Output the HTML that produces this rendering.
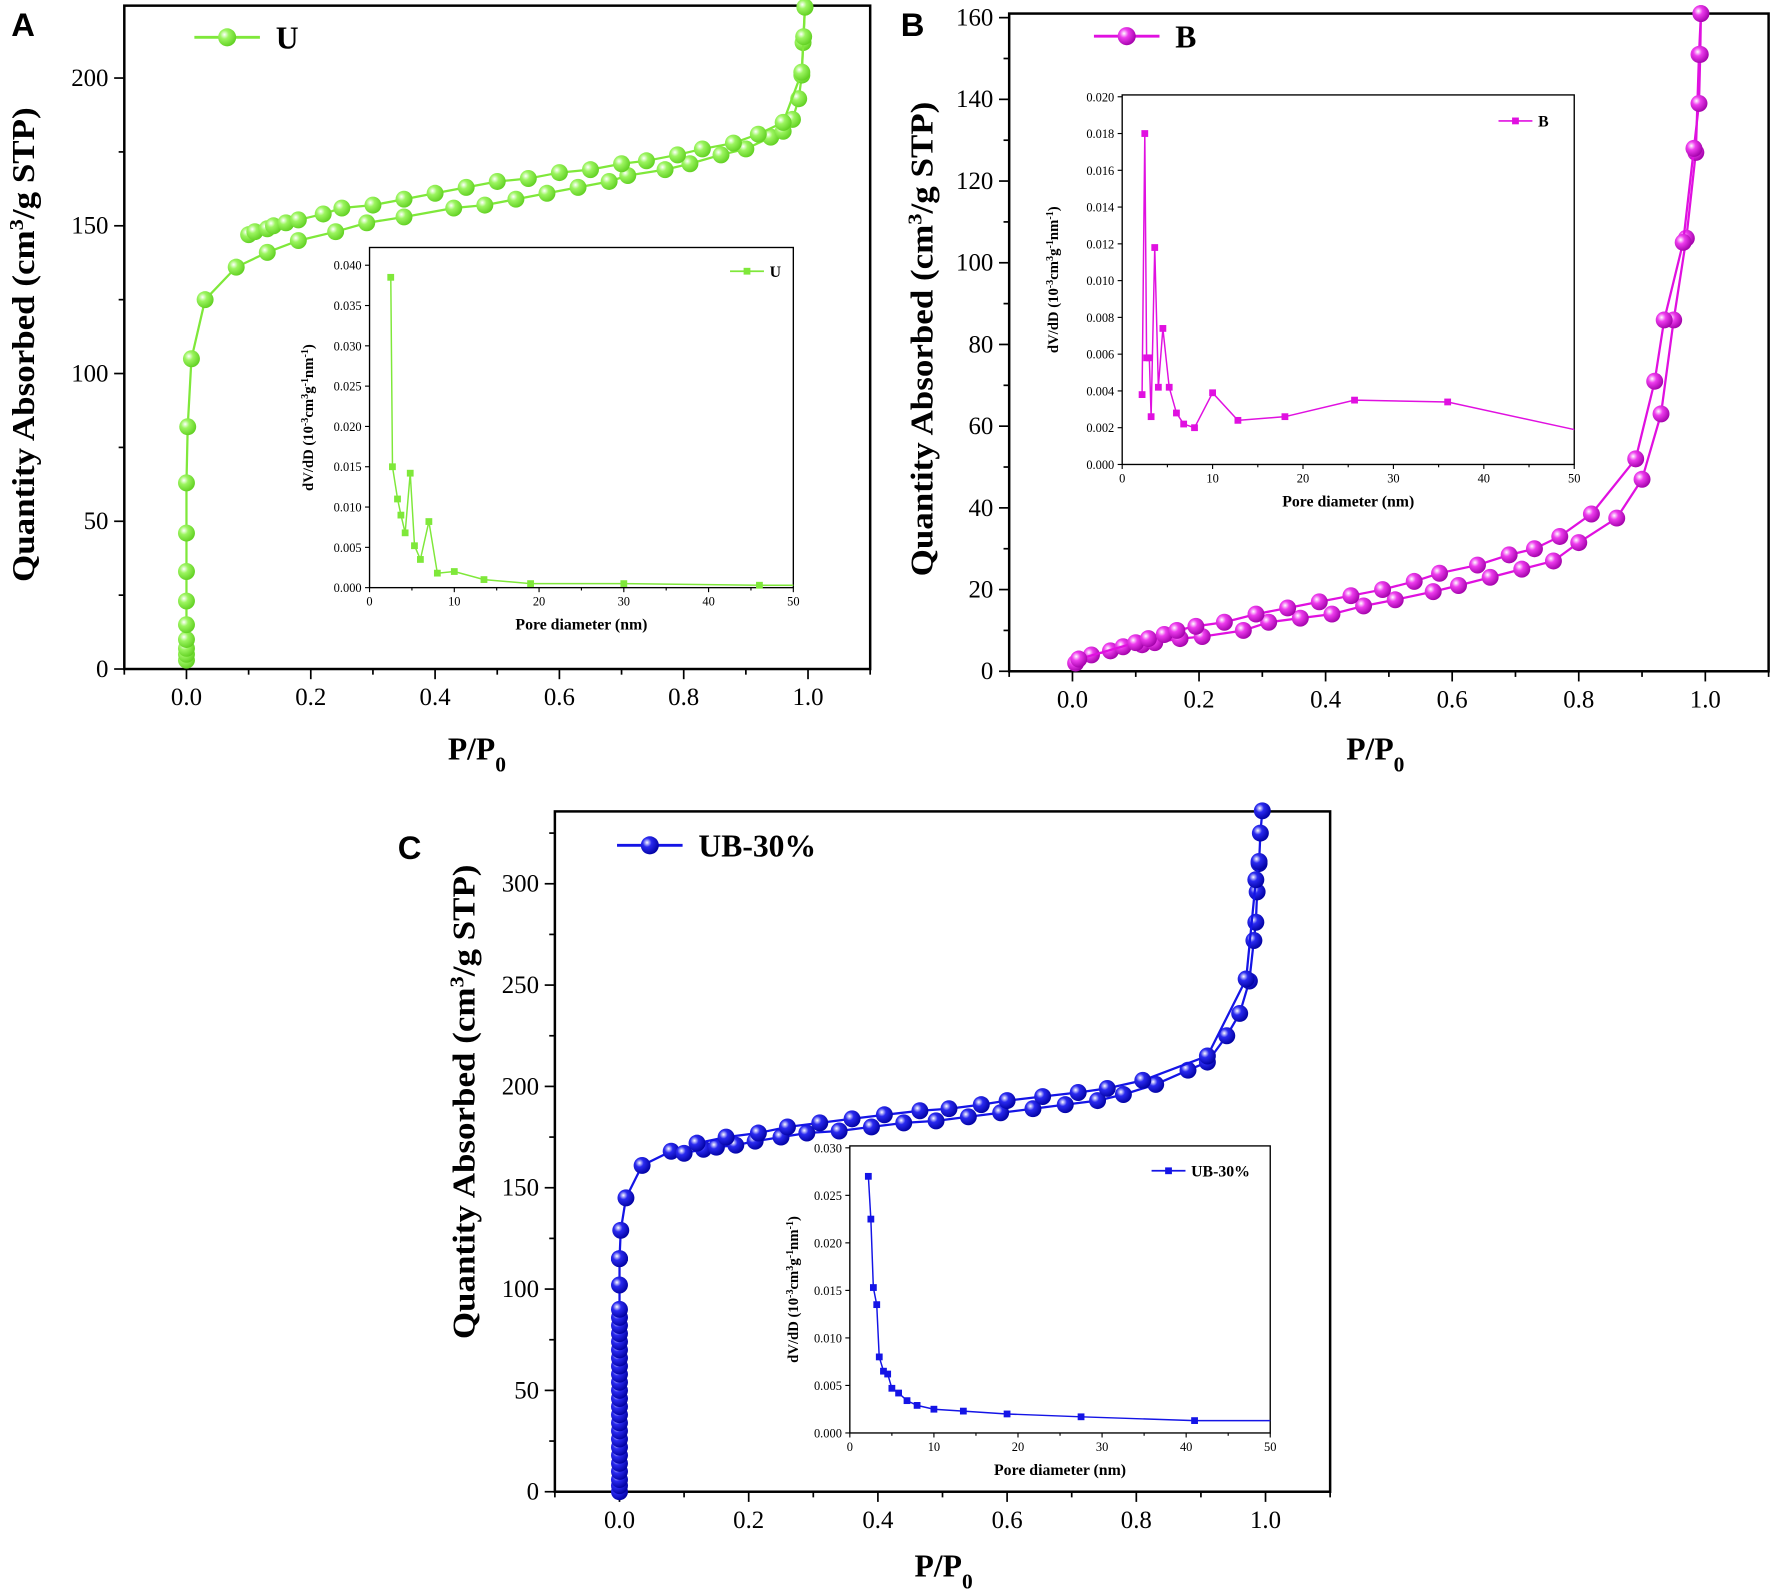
<!DOCTYPE html>
<html><head><meta charset="utf-8"><style>
html,body{margin:0;padding:0;background:#fff}
svg{display:block}
text{font-family:"Liberation Serif",serif}
text.sans{font-family:"Liberation Sans",sans-serif}
</style></head><body>
<svg id="fig" width="1772" height="1594" viewBox="0 0 1568 1410.5" preserveAspectRatio="none" xmlns="http://www.w3.org/2000/svg">
<defs>
<radialGradient id="gA" cx="0.35" cy="0.35" r="0.7"><stop offset="0" stop-color="#ffffff"/><stop offset="0.35" stop-color="#9cf560"/><stop offset="1" stop-color="#5fcf20"/></radialGradient>
<radialGradient id="gB" cx="0.35" cy="0.35" r="0.7"><stop offset="0" stop-color="#ffffff"/><stop offset="0.35" stop-color="#ee3cee"/><stop offset="1" stop-color="#a000a8"/></radialGradient>
<radialGradient id="gC" cx="0.35" cy="0.35" r="0.7"><stop offset="0" stop-color="#ffffff"/><stop offset="0.35" stop-color="#2a2af0"/><stop offset="1" stop-color="#0000a0"/></radialGradient>
</defs>
</svg>
<script>
// Panel A data
const aAdsX=[0,0,0,0,0,0,0,0,0,0.002,0.008,0.03,0.08,0.13,0.18,0.24,0.29,0.35,0.43,0.48,0.53,0.58,0.63,0.68,0.71,0.77,0.81,0.86,0.9,0.94,0.96,0.975,0.985,0.99,0.992,0.995];
const aAdsY=[3,5,7,10,15,23,33,46,63,82,105,125,136,141,145,148,151,153,156,157,159,161,163,165,167,169,171,174,176,180,182,186,193,201,212,224];
const aDesX=[0.1,0.11,0.13,0.14,0.16,0.18,0.22,0.25,0.3,0.35,0.4,0.45,0.5,0.55,0.6,0.65,0.7,0.74,0.79,0.83,0.88,0.92,0.96,0.99,0.993,0.995];
const aDesY=[147,148,149,150,151,152,154,156,157,159,161,163,165,166,168,169,171,172,174,176,178,181,185,202,214,224];
const aPoreX=[2.5,2.7,3.3,3.7,4.2,4.8,5.3,6,7,8,10,13.5,19,30,46,50];
const aPoreY=[0.0385,0.015,0.011,0.009,0.0068,0.0142,0.0052,0.0035,0.0082,0.0018,0.002,0.001,0.0005,0.0005,0.0003,0.0003];
const aYTicks=[0,50,100,150,200];
const aInsetTicks=["0.000","0.005","0.010","0.015","0.020","0.025","0.030","0.035","0.040"];
// Panel B data
const bAdsX=[0.005,0.03,0.06,0.08,0.11,0.13,0.17,0.205,0.27,0.31,0.36,0.41,0.46,0.51,0.57,0.61,0.66,0.71,0.76,0.8,0.86,0.9,0.93,0.95,0.97,0.985,0.99,0.993];
const bAdsY=[2,4,5,6,6.5,7,8,8.5,10,12,13,14,16,17.5,19.5,21,23,25,27,31.5,37.5,47,63,86,106,127,151,161];
const bDesX=[0.01,0.1,0.12,0.145,0.165,0.195,0.24,0.29,0.34,0.39,0.44,0.49,0.54,0.58,0.64,0.69,0.73,0.77,0.82,0.89,0.92,0.935,0.965,0.982,0.99,0.992,0.993];
const bDesY=[3,7,8,9,10,11,12,14,15.5,17,18.5,20,22,24,26,28.5,30,33,38.5,52,71,86,105,128,139,151,161];
const bPoreX=[2.2,2.5,2.7,3,3.2,3.6,4,4.5,5.2,6,6.8,8,10,12.8,18,25.7,36,50];
const bPoreY=[0.0038,0.018,0.0058,0.0058,0.0026,0.0118,0.0042,0.0074,0.0042,0.0028,0.0022,0.002,0.0039,0.0024,0.0026,0.0035,0.0034,0.0019];
const bYTicks=[0,20,40,60,80,100,120,140,160];
const bInsetTicks=["0.000","0.002","0.004","0.006","0.008","0.010","0.012","0.014","0.016","0.018","0.020"];
// Panel C data
const cAdsX=[0,0,0,0,0,0,0,0,0,0,0,0,0,0,0,0,0,0,0,0,0,0,0,0,0,0,0,0,0.002,0.01,0.035,0.08,0.1,0.13,0.15,0.18,0.21,0.25,0.29,0.34,0.39,0.44,0.49,0.54,0.59,0.64,0.69,0.74,0.78,0.83,0.88,0.91,0.94,0.96,0.975,0.982,0.985,0.987,0.99,0.992,0.995];
const cAdsY=[0,3,6,10,14,18,22,26,30,34,38,42,46,50,54,58,62,66,70,74,78,82,86,90,102,115,115,115,129,145,161,168,167,169,170,171,173,175,177,178,180,182,183,185,187,189,191,193,196,201,208,212,225,236,252,272,281,296,310,325,336];
const cDesX=[0.12,0.165,0.215,0.26,0.31,0.36,0.41,0.465,0.51,0.56,0.6,0.655,0.71,0.755,0.81,0.91,0.97,0.985,0.99];
const cDesY=[172,175,177,180,182,184,186,188,189,191,193,195,197,199,203,215,253,302,311];
const cPoreX=[2.2,2.5,2.8,3.2,3.5,4,4.5,5,5.8,6.8,8,10,13.5,18.7,27.5,41,50];
const cPoreY=[0.027,0.0225,0.0153,0.0135,0.008,0.0065,0.0062,0.0047,0.0042,0.0034,0.0029,0.0025,0.0023,0.002,0.0017,0.0013,0.0013];
const cYTicks=[0,50,100,150,200,250,300];
const cInsetTicks=["0.000","0.005","0.010","0.015","0.020","0.025","0.030"];
const xTicks=["0.0","0.2","0.4","0.6","0.8","1.0"];
const poreTicks=[0,10,20,30,40,50];

const NS="http://www.w3.org/2000/svg";
const svg=document.getElementById('fig');
function mk(tag,attrs,parent,txt){const e=document.createElementNS(NS,tag);for(const k in attrs)e.setAttribute(k,attrs[k]);if(txt!==undefined)e.textContent=txt;(parent||svg).appendChild(e);return e;}

function linePath(xs,ys,fx,fy){return xs.map((x,i)=>(i?'L':'M')+fx(x).toFixed(1)+' '+fy(ys[i]).toFixed(1)).join(' ');}

function mainPanel(p){
  const g=mk('g',{});
  
  
  const fx=v=>p.L+(v+0.1)/1.2*(p.R-p.L);
  const fy=v=>p.B-v/p.ymax*(p.B-p.T);
  for(let i=0;i<=12;i++){const v=-0.1+i*0.1;const x=fx(v);const major=(i%2===1);
    const t=mk('line',{x1:x,x2:x,y1:p.B,y2:p.B+(major?9:5),stroke:'#000','stroke-width':1.5},g);}
  xTicks.forEach(s=>{const t=mk('text',{x:fx(parseFloat(s)),y:p.B+32,'font-size':22,'text-anchor':'middle'},g,s);});
  const step=p.yt[1]-p.yt[0];
  for(let v=0;v<=p.ymax;v+=step/2){const y=fy(v);const major=Math.abs(v/step-Math.round(v/step))<0.01;
    const t=mk('line',{x1:p.L,x2:p.L-(major?9:5),y1:y,y2:y,stroke:'#000','stroke-width':1.5},g);}
  p.yt.forEach(v=>{const t=mk('text',{x:p.L-14,y:fy(v)+7,'font-size':22,'text-anchor':'end'},g,String(v));});
  const f=mk('rect',{x:p.L,y:p.T,width:p.R-p.L,height:p.B-p.T,fill:'none',stroke:'#000','stroke-width':2.2},g);
  
  [[p.ax,p.ay,'adsorption'],[p.dx,p.dy,'desorption']].forEach(([xs,ys,nm])=>{
    const l=mk('path',{d:linePath(xs,ys,fx,fy),fill:'none',stroke:p.col,'stroke-width':2},g);
    
    xs.forEach((x,i)=>{const c=mk('circle',{cx:fx(x),cy:fy(ys[i]),r:p.r,fill:'url(#'+p.grad+')'},g);
      });
  });
  const lg=mk('g',{},g);
  mk('line',{x1:p.lgx,x2:p.lgx+58,y1:p.lgy,y2:p.lgy,stroke:p.col,'stroke-width':2.5},lg);
  mk('circle',{cx:p.lgx+29,cy:p.lgy,r:8,fill:'url(#'+p.grad+')'},lg);
  mk('text',{x:p.lgx+72,y:p.lgy+10,'font-size':28,'font-weight':'bold'},lg,p.label);
  const pl=mk('text',{x:p.letx,y:p.lety,'font-size':29,'font-weight':'bold','class':'sans'},g,p.letter);
  
  const yt=mk('text',{x:0,y:0,'font-size':28,'font-weight':'bold','text-anchor':'middle',textLength:420,lengthAdjust:'spacingAndGlyphs',transform:`translate(${p.ytx},${p.yty}) rotate(-90)`},g);
  
  yt.appendChild(document.createTextNode('Quantity Absorbed (cm'));
  mk('tspan',{'baseline-shift':'super','font-size':18},yt,'3');
  mk('tspan',{},yt,'/g STP)');
  const xt=mk('text',{x:p.xtx,y:p.xty,'font-size':28,'font-weight':'bold','text-anchor':'middle'},g);
  
  xt.appendChild(document.createTextNode('P/P'));
  mk('tspan',{'baseline-shift':'sub','font-size':19},xt,'0');
  return g;
}

function inset(q){
  const g=mk('g',{});
  
  
  const fx=v=>q.L+v/50*(q.R-q.L);
  const fy=v=>q.B-v/q.ymax*(q.B-q.T);
  mk('rect',{x:q.L,y:q.T,width:q.R-q.L,height:q.B-q.T,fill:'#fff',stroke:'#000','stroke-width':1.2},g);
  poreTicks.forEach(v=>{mk('line',{x1:fx(v),x2:fx(v),y1:q.B,y2:q.B+4,stroke:'#000'},g);
    const t=mk('text',{x:fx(v),y:q.B+16,'font-size':11,'text-anchor':'middle'},g,String(v));});
  for(let v=5;v<50;v+=10)mk('line',{x1:fx(v),x2:fx(v),y1:q.B,y2:q.B+2.5,stroke:'#000'},g);
  q.yt.forEach(s=>{const y=fy(parseFloat(s));mk('line',{x1:q.L,x2:q.L-4,y1:y,y2:y,stroke:'#000'},g);
    const t=mk('text',{x:q.L-7,y:y+4,'font-size':11,'text-anchor':'end'},g,s);});
  const l=mk('path',{d:linePath(q.xs,q.ys,fx,fy),fill:'none',stroke:q.col,'stroke-width':1.3},g);
  
  q.xs.forEach((x,i)=>{if(x>=50)return;const s=mk('rect',{x:fx(x)-3,y:fy(q.ys[i])-3,width:6,height:6,fill:q.col},g);
    });
  const lg=mk('g',{},g);
  mk('line',{x1:q.lgx,x2:q.lgx+30,y1:q.lgy,y2:q.lgy,stroke:q.col,'stroke-width':1.5},lg);
  mk('rect',{x:q.lgx+12,y:q.lgy-3,width:6,height:6,fill:q.col},lg);
  mk('text',{x:q.lgx+35,y:q.lgy+5,'font-size':14,'font-weight':'bold'},lg,q.label);
  const xt=mk('text',{x:(q.L+q.R)/2,y:q.B+37,'font-size':14,'font-weight':'bold','text-anchor':'middle'},g,'Pore diameter (nm)');
  
  const yt=mk('text',{x:0,y:0,'font-size':13,'font-weight':'bold','text-anchor':'middle',transform:`translate(${q.ytx},${(q.T+q.B)/2}) rotate(-90)`},g);
  
  yt.appendChild(document.createTextNode('dV/dD (10'));
  mk('tspan',{'baseline-shift':'super','font-size':9},yt,'-3');
  yt.appendChild(document.createTextNode('cm'));
  mk('tspan',{'baseline-shift':'super','font-size':9},yt,'3');
  yt.appendChild(document.createTextNode('g'));
  mk('tspan',{'baseline-shift':'super','font-size':9},yt,'-1');
  yt.appendChild(document.createTextNode('nm'));
  mk('tspan',{'baseline-shift':'super','font-size':9},yt,'-1');
  yt.appendChild(document.createTextNode(')'));
}

mainPanel({name:'u',letter:'A',letx:10,lety:32,L:110,R:770,T:5,B:592,ymax:224.5,yt:aYTicks,ax:aAdsX,ay:aAdsY,dx:aDesX,dy:aDesY,col:'#7fe83a',grad:'gA',r:7.5,label:'U',lgx:172,lgy:33,ytx:30,yty:305,xtx:422,xty:672});
inset({name:'u',L:327,R:702,T:219,B:520,ymax:0.0422,yt:aInsetTicks,xs:aPoreX,ys:aPoreY,col:'#7fe83a',label:'U',lgx:646,lgy:240,ytx:277});
mainPanel({name:'b',letter:'B',letx:797,lety:32,L:893,R:1565,T:12,B:594,ymax:161,yt:bYTicks,ax:bAdsX,ay:bAdsY,dx:bDesX,dy:bDesY,col:'#e010e0',grad:'gB',r:7.5,label:'B',lgx:968,lgy:32,ytx:825,yty:300,xtx:1217,xty:672});
inset({name:'b',L:993,R:1393,T:84,B:411,ymax:0.0201,yt:bInsetTicks,xs:bPoreX,ys:bPoreY,col:'#e010e0',label:'B',lgx:1326,lgy:107,ytx:936});
mainPanel({name:'ub30',letter:'C',letx:352,lety:760,L:491,R:1177,T:718,B:1320,ymax:335.7,yt:cYTicks,ax:cAdsX,ay:cAdsY,dx:cDesX,dy:cDesY,col:'#1414e6',grad:'gC',r:7.5,label:'UB-30%',lgx:546,lgy:748,ytx:420,yty:975,xtx:835,xty:1395});
inset({name:'ub30',L:752,R:1124,T:1014,B:1268,ymax:0.0302,yt:cInsetTicks,xs:cPoreX,ys:cPoreY,col:'#1414e6',label:'UB-30%',lgx:1019,lgy:1036,ytx:706});
</script>
</body></html>
